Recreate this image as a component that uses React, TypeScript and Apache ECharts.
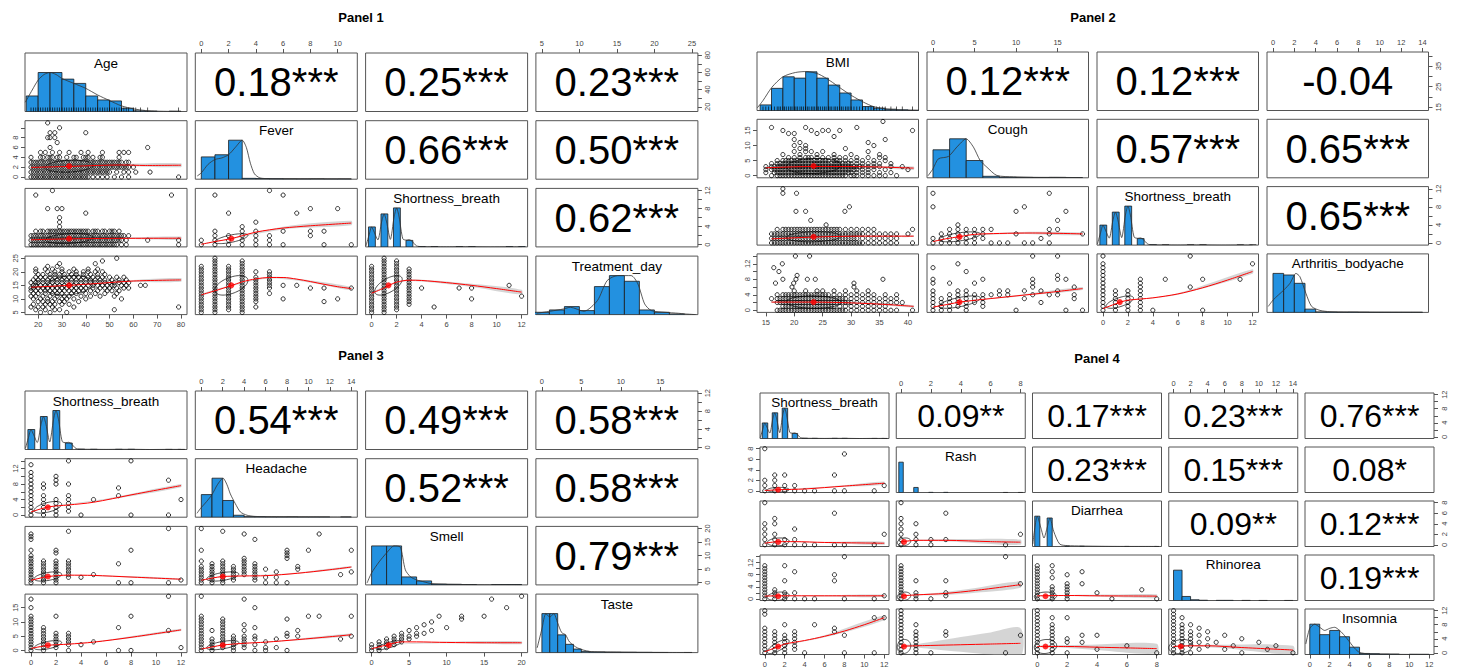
import React, { useEffect, useRef } from "react";
import * as echarts from "echarts";

type Range = [number, number];
type Col = [number, number[]];
type Pt = [number, number];
type Bin = [number, number, number];
type Band = [number, number, number];

const FONT = "'Liberation Sans', Arial, Helvetica, sans-serif";
const BORDER = "#555555";
const HIST_FILL = "#2391E0";

// ===== Shortness_breath (shared by all panels) =====
const SB_RANGE: Range = [0, 12];
const SB_TICKS = [0, 2, 4, 6, 8, 10, 12];
const SB_VLABELS = [0, 4, 8, 12];
const SB_MEAN = 1.35;
const SB_SD = 1.1;
const SB_HIST: Bin[] = [[-0.25, 0.3, 200], [0.75, 1.3, 330], [1.75, 2.3, 390], [2.75, 3.3, 65], [3.75, 4.3, 3], [4.75, 5.3, 2], [6.75, 7.3, 2], [7.75, 8.3, 2], [10.75, 11.3, 1], [11.75, 12.3, 1]];
const SB_DENS: Pt[] = [[-0.45, 10], [-0.2, 120], [0, 200], [0.2, 150], [0.5, 70], [0.8, 250], [1, 330], [1.2, 250], [1.5, 75], [1.8, 300], [2, 390], [2.2, 300], [2.5, 80], [2.8, 68], [3, 72], [3.2, 60], [3.6, 10], [4, 3], [5, 2], [6, 1], [7, 2], [8, 2], [9.5, 0], [11, 1], [12, 1]];

// ===== Panel 1 =====
const P1_VARS = ["Age", "Fever", "Shortness_breath", "Treatment_day"];
const P1_RANGES: Range[] = [[17, 80], [0, 11], SB_RANGE, [5, 25]];
const P1_TICKS = [[20, 30, 40, 50, 60, 70, 80], [0, 2, 4, 6, 8, 10], SB_TICKS, [5, 10, 15, 20, 25]];
const P1_VLABELS = [[20, 40, 60, 80], [0, 2, 4, 6, 8], SB_VLABELS, [5, 10, 15, 20, 25]];
const P1_MEANS = [33, 2.2, SB_MEAN, 15];
const P1_SDS = [10, 1.22, SB_SD, 3.6];
const P1_COR = ["0.18***", "0.25***", "0.23***", "0.66***", "0.50***", "0.62***"];

const AGE_HIST: Bin[] = [[15, 20, 47], [20, 25, 118], [25, 30, 118], [30, 35, 98], [35, 40, 85], [40, 45, 47], [45, 50, 35], [50, 55, 32], [55, 60, 10], [60, 65, 2], [65, 70, 1], [75, 80, 1]];
const AGE_DENS: Pt[] = [[14.6, 28], [17.5, 65], [20, 95], [22.5, 112], [25, 118], [27.5, 112], [30, 100], [35, 85], [40, 70], [45, 50], [50, 33], [55, 17], [60, 8], [65, 3], [70, 1], [80, 0]];
const AGE_RUG = [17, 18, 19, 20, 21, 22, 23, 24, 25, 26, 27, 28, 29, 30, 31, 32, 33, 34, 35, 36, 37, 38, 39, 40, 41, 42, 43, 44, 45, 46, 47, 48, 49, 50, 51, 52, 53, 54, 55, 56, 57, 58, 60, 61, 63, 66, 79];
const FEVER_HIST: Bin[] = [[0, 1, 210], [1, 2, 230], [2, 3, 367], [3, 4, 8], [4, 5, 6], [5, 6, 4], [6, 7, 3], [7, 8, 2], [8, 9, 3], [9, 10, 1], [10, 11, 2]];
const FEVER_DENS: Pt[] = [[-0.3, 30], [0, 60], [0.5, 140], [1, 185], [1.5, 200], [2, 230], [2.5, 300], [3, 367], [3.3, 300], [3.6, 150], [3.9, 50], [4.3, 12], [5, 5], [6, 3], [8, 3], [10, 2], [11, 1]];
const TD_HIST: Bin[] = [[4, 6, 7], [6, 8, 14], [8, 10, 24], [10, 12, 12], [12, 14, 84], [14, 16, 117], [16, 18, 100], [18, 20, 14], [20, 22, 7], [22, 24, 2]];
const TD_DENS: Pt[] = [[4.3, 4], [6.1, 10], [7.9, 17], [8.8, 22], [10.6, 10], [12.4, 42], [13.7, 102], [15.1, 117], [16.9, 117], [17.8, 92], [18.7, 32], [19.6, 12], [21.4, 7], [23.2, 4], [24.1, 2], [25.5, 0]];

const P1_AGE_FEVER: Col[] = [
  [0, [17, 18, 19, 20, 21, 22, 23, 24, 25, 26, 27, 28, 29, 30, 31, 32, 33, 34, 35, 36, 37, 38, 39, 40, 41, 43, 45, 47, 49, 52, 55, 58, 79]],
  [1, [17, 18, 19, 20, 21, 22, 23, 24, 25, 26, 27, 28, 29, 30, 31, 32, 33, 34, 35, 36, 37, 38, 39, 40, 41, 42, 43, 44, 45, 46, 47, 48, 49, 50, 53, 56, 58, 61, 67]],
  [2, [17, 18, 19, 20, 21, 22, 23, 24, 25, 26, 27, 28, 29, 30, 31, 32, 33, 34, 35, 36, 37, 38, 39, 40, 41, 42, 43, 44, 45, 46, 47, 48, 49, 50, 51, 52, 53, 54, 55, 56, 57, 58, 60]],
  [3, [17, 18, 19, 20, 21, 22, 23, 24, 25, 26, 27, 28, 29, 30, 31, 32, 33, 34, 35, 36, 37, 38, 39, 40, 41, 42, 43, 44, 45, 46, 47, 48, 49, 50, 51, 52, 53, 54, 55, 57, 58]],
  [4, [17, 21, 22, 24, 25, 26, 28, 29, 32, 35, 36, 39, 40, 41, 43, 46, 47, 54]],
  [5, [21, 23, 26, 29, 33, 38, 41, 47, 54, 56, 58]],
  [6, [25, 66]], [7, [28]], [8, [24, 25, 27]], [9, [25, 27, 40]], [10, [29]], [11, [24]],
];
const P1_AGE_FEVER_LOESS: Pt[] = [[17, 1.95], [25, 2.05], [33, 2.15], [45, 2.35], [55, 2.45], [65, 2.35], [80, 2.4]];
const P1_AGE_FEVER_BAND: Band[] = [[17, 1.8, 2.1], [33, 2.05, 2.25], [55, 2.25, 2.65], [80, 2.0, 2.8]];

const P1_AGE_SB: Col[] = [
  [0, [17, 18, 19, 20, 21, 22, 23, 24, 25, 26, 27, 28, 29, 30, 31, 32, 33, 34, 35, 36, 37, 38, 39, 40, 41, 42, 43, 44, 45, 46, 47, 48, 49, 50, 51, 52, 53, 55, 57, 79]],
  [1, [17, 18, 19, 20, 21, 22, 23, 24, 25, 26, 27, 28, 29, 30, 31, 32, 33, 34, 35, 36, 37, 38, 39, 40, 41, 42, 43, 44, 45, 46, 47, 48, 49, 50, 51, 52, 53, 54, 55, 57, 66, 79]],
  [2, [17, 18, 19, 20, 21, 22, 23, 24, 25, 26, 27, 28, 29, 30, 31, 32, 33, 34, 35, 36, 37, 38, 39, 40, 41, 42, 43, 44, 45, 46, 47, 48, 49, 50, 51, 52, 53, 54, 55, 56, 58]],
  [3, [19, 21, 22, 24, 25, 26, 27, 28, 29, 30, 31, 32, 33, 34, 35, 36, 37, 38, 39, 40, 41, 43, 44, 45, 47, 48, 50, 51, 52, 54]],
  [4, [29]], [5, [29]], [6, [29]], [7, [40]], [8, [24, 28, 30]], [11, [19, 76]], [12, [26]],
];
const P1_AGE_SB_LOESS: Pt[] = [[17, 1.1], [33, 1.3], [50, 1.4], [80, 1.45]];
const P1_AGE_SB_BAND: Band[] = [[17, 0.95, 1.25], [33, 1.2, 1.4], [55, 1.25, 1.6], [80, 1.1, 1.8]];

const P1_FEVER_SB: Col[] = [
  [0, [0, 1]], [1, [0, 1, 2, 3, 11]], [2, [0, 1, 2, 7]], [3, [0, 1, 2, 3, 4]], [4, [0, 1, 2, 3, 5]], [5, [0, 1, 2, 12]],
  [6, [0, 3, 11]], [7, [7]], [8, [2, 3, 8]], [9, [0, 3]], [10, [8]], [11, [0]],
];
const P1_FEVER_SB_LOESS: Pt[] = [[0, 0.1], [1, 0.7], [2.2, 1.35], [3, 2], [4, 2.8], [5, 3.3], [6, 3.7], [8, 4.2], [11, 4.8]];
const P1_FEVER_SB_BAND: Band[] = [[0, 0.0, 0.2], [2.2, 1.25, 1.45], [6, 3.4, 4.0], [11, 4.3, 5.3]];

const P1_AGE_TD: Col[] = [
  [5, [21, 25, 32]], [6, [19, 23, 27, 29, 52]], [7, [17, 20, 22, 26, 35, 79]], [8, [18, 23, 25, 27, 30, 33]],
  [9, [20, 22, 24, 26, 29, 31, 37]], [10, [18, 21, 24, 27, 30, 32, 35, 40, 55]], [11, [17, 19, 22, 25, 28, 31, 33, 38, 42, 46, 52]],
  [12, [18, 20, 23, 26, 28, 30, 34, 36, 40, 44, 48, 53]], [13, [17, 19, 21, 23, 25, 27, 29, 31, 33, 35, 37, 39, 42, 45, 49, 51, 54]],
  [14, [17, 18, 20, 22, 24, 26, 28, 30, 32, 34, 36, 38, 40, 43, 46, 48, 50, 53, 56, 58]],
  [15, [18, 19, 21, 23, 25, 27, 29, 31, 33, 35, 37, 39, 41, 43, 45, 47, 49, 51, 52, 55, 57, 63, 65]],
  [16, [17, 19, 20, 22, 24, 26, 28, 30, 32, 34, 36, 38, 40, 42, 44, 46, 48, 50, 52, 54, 56, 58]],
  [17, [18, 20, 22, 24, 26, 28, 30, 32, 34, 36, 38, 40, 42, 44, 46, 48, 51, 54, 57]],
  [18, [19, 21, 23, 25, 27, 29, 31, 33, 35, 37, 39, 41, 43, 45, 47, 50, 53, 56]],
  [19, [20, 22, 25, 27, 29, 31, 34, 36, 39, 42, 45, 48]], [20, [19, 24, 27, 30, 33, 36, 39, 41, 44, 47]],
  [21, [19, 23, 26, 30, 35, 41, 45]], [22, [24, 28]], [23, [29, 44]], [24, [47]], [25, [53]],
];
const P1_AGE_TD_LOESS: Pt[] = [[17, 14.3], [33, 15], [45, 15.7], [60, 16.6], [80, 17.0]];
const P1_AGE_TD_BAND: Band[] = [[17, 13.9, 14.7], [33, 14.8, 15.2], [60, 16.2, 17.0], [80, 16.3, 17.7]];

const P1_FEVER_TD: Col[] = [
  [0, [5, 6, 7, 8, 9, 10, 11, 12, 13, 14, 15, 16, 17, 18, 19, 20, 21, 22]],
  [1, [5, 6, 7, 8, 9, 10, 11, 12, 13, 14, 15, 16, 17, 18, 19, 20, 21, 22, 23, 24, 25]],
  [2, [6, 7, 8, 9, 10, 11, 12, 13, 14, 15, 16, 17, 18, 19, 20, 21, 22]],
  [3, [5, 6, 7, 8, 9, 10, 11, 12, 13, 14, 15, 16, 17, 18, 19, 20, 21, 22, 23, 24]],
  [4, [7, 9, 10, 11, 12, 13, 14, 15, 16, 17, 18, 20]], [5, [12, 14, 15, 16, 17, 18, 19, 20]],
  [6, [10, 15]], [7, [15]], [8, [14]], [9, [9, 14]], [10, [10]], [11, [14]],
];
const P1_FEVER_TD_LOESS: Pt[] = [[0, 11.5], [1, 13], [2.2, 14.9], [3, 16.3], [4, 17.4], [5, 17.9], [6, 17.9], [7, 17.3], [8, 16.4], [9, 15.4], [10, 14.5], [11, 13.8]];
const P1_FEVER_TD_BAND: Band[] = [[0, 11.2, 11.8], [2.2, 14.7, 15.1], [5, 17.5, 18.1], [8, 16.0, 16.8], [11, 13.2, 14.4]];

const P1_SB_TD: Col[] = [
  [0, [5, 6, 7, 8, 9, 10, 11, 12, 13, 14, 15, 16, 17, 18, 19, 20, 21, 22]],
  [1, [5, 6, 7, 8, 9, 10, 11, 12, 13, 14, 15, 16, 17, 18, 19, 20, 21, 22, 23, 24, 25]],
  [2, [6, 7, 8, 9, 10, 11, 12, 13, 14, 15, 16, 17, 18, 19, 20, 21, 22, 23, 24]],
  [3, [8, 9, 10, 11, 12, 13, 14, 15, 16, 17, 18, 19, 20, 21]],
  [4, [14]], [5, [7]], [7, [14]], [8, [10, 14]], [11, [15]], [12, [11]],
];
const P1_SB_TD_LOESS: Pt[] = [[0, 12.1], [1, 14], [1.4, 15], [2, 16.2], [3, 16.9], [4, 16.8], [6, 16], [8, 15], [10, 13.8], [12, 12.5]];
const P1_SB_TD_BAND: Band[] = [[0, 11.8, 12.4], [1.4, 14.8, 15.2], [3, 16.6, 17.2], [8, 14.4, 15.6], [12, 11.6, 13.4]];

// ===== Panel 2 =====
const P2_VARS = ["BMI", "Cough", "Shortness_breath", "Arthritis_bodyache"];
const P2_RANGES: Range[] = [[14.5, 40.8], [0, 18], SB_RANGE, [0, 14]];
const P2_TICKS = [[15, 20, 25, 30, 35, 40], [0, 5, 10, 15], SB_TICKS, [0, 2, 4, 6, 8, 10, 12, 14]];
const P2_VLABELS = [[15, 25, 35], [0, 5, 10, 15], SB_VLABELS, [0, 4, 8, 12]];
const P2_MEANS = [23.4, 3.2, SB_MEAN, 2.1];
const P2_SDS = [4.8, 2.5, SB_SD, 1.6];
const P2_COR = ["0.12***", "0.12***", "-0.04", "0.57***", "0.65***", "0.65***"];

const BMI_HIST: Bin[] = [[14, 16, 17], [16, 18, 67], [18, 20, 102], [20, 22, 98], [22, 24, 117], [24, 26, 98], [26, 28, 77], [28, 30, 53], [30, 32, 32], [32, 34, 12], [34, 36, 7], [36, 38, 4], [38, 40, 2], [40, 42, 1]];
const BMI_DENS: Pt[] = [[13.5, 8], [14.5, 30], [16.05, 70], [18, 102], [20.2, 115], [22.2, 118], [24.3, 110], [26.3, 90], [28.1, 68], [30.1, 45], [32.2, 25], [33.9, 12], [36, 5], [38, 2], [41.5, 0]];
const BMI_RUG = [14.5, 15, 15.5, 16, 16.5, 17, 17.3, 17.6, 18, 18.3, 18.6, 19, 19.3, 19.6, 20, 20.3, 20.6, 21, 21.3, 21.6, 22, 22.3, 22.6, 23, 23.3, 23.6, 24, 24.3, 24.6, 25, 25.3, 25.6, 26, 26.3, 26.6, 27, 27.3, 27.6, 28, 28.3, 28.6, 29, 29.3, 29.6, 30, 30.5, 31, 31.5, 32, 32.5, 33, 33.5, 34, 34.5, 35, 35.5, 36, 37, 38, 39, 40.8];
const COUGH_HIST: Bin[] = [[0, 2, 280], [2, 4, 390], [4, 6, 173], [6, 8, 15], [8, 10, 5], [10, 12, 4], [12, 14, 3], [14, 16, 4], [16, 18, 2]];
const COUGH_DENS: Pt[] = [[-0.6, 20], [0, 90], [0.65, 190], [1.85, 213], [2.87, 307], [3.99, 390], [4.87, 307], [5.68, 173], [6.49, 106], [7.7, 23], [9.7, 10], [12, 5], [15, 4], [18, 2]];
const ARTH_HIST: Bin[] = [[0, 1, 393], [1, 2, 377], [2, 3, 293], [3, 4, 33], [4, 5, 5], [5, 6, 3], [6, 7, 2], [7, 8, 3], [8, 9, 2], [9, 10, 1], [10, 11, 1], [11, 12, 1], [12, 13, 1], [13, 14, 1]];
const ARTH_DENS: Pt[] = [[-0.44, 60], [0.03, 127], [1.03, 227], [1.59, 293], [2.15, 393], [2.52, 360], [3.08, 193], [3.62, 60], [4.4, 20], [5.33, 7], [7, 3], [10, 1], [14, 0]];

const P2_BMI_COUGH: Col[] = [
  [0, [16, 17, 17.5, 18, 18.5, 19, 19.5, 20, 20.5, 21, 21.5, 22, 22.5, 23, 23.5, 24, 24.5, 25, 25.5, 26, 26.5, 27, 27.5, 28, 28.5, 29, 30, 30.5, 31, 32, 33, 34, 35, 36, 38]],
  [1, [15, 16.5, 17, 17.5, 18, 18.5, 19, 19.5, 20, 20.5, 21, 21.5, 22, 22.5, 23, 23.5, 24, 24.5, 25, 25.5, 26, 26.5, 27, 27.5, 28, 28.5, 29, 29.5, 30, 31, 32, 33, 35, 37]],
  [2, [15, 16, 16.5, 17, 17.5, 18, 18.5, 19, 19.5, 20, 20.5, 21, 21.5, 22, 22.5, 23, 23.5, 24, 24.5, 25, 25.5, 26, 26.5, 27, 27.5, 28, 28.5, 29, 29.5, 30, 30.5, 31, 32, 33, 34, 36, 40]],
  [3, [15, 16, 16.5, 17, 17.5, 18, 18.5, 19, 19.5, 20, 20.5, 21, 21.5, 22, 22.5, 23, 23.5, 24, 24.5, 25, 25.5, 26, 26.5, 27, 27.5, 28, 28.5, 29, 29.5, 30, 30.5, 31, 31.5, 32, 33, 34, 35, 37, 39]],
  [4, [16, 17, 17.5, 18, 18.5, 19, 19.5, 20, 20.5, 21, 21.5, 22, 22.5, 23, 23.5, 24, 24.5, 25, 25.5, 26, 26.5, 27, 27.5, 28, 28.5, 29, 29.5, 30, 31, 32, 33, 34, 35, 37]],
  [5, [17, 18, 18.5, 19, 19.5, 20, 20.5, 21, 21.5, 22, 22.5, 23, 23.5, 24, 24.5, 25, 25.5, 26, 27, 27.5, 28, 29, 30, 31, 32, 34, 36]],
  [6, [19, 20, 21, 22, 22.5, 23, 24, 25, 26, 27, 28, 29, 31, 33, 35, 36]], [7, [18, 21, 24, 27, 30, 35]], [8, [20, 22, 23, 25, 33]],
  [9, [21, 22, 29]], [10, [20, 22, 34]], [11, [21, 33]], [12, [20, 36]], [13, [27]], [14, [19, 20, 24]],
  [15, [18, 23, 25, 26, 28, 40.8]], [16, [16, 22, 31]], [18, [35.6]],
];
const P2_BMI_COUGH_LOESS: Pt[] = [[15, 2.6], [23.4, 3.05], [33, 2.95], [41, 2.5]];
const P2_BMI_COUGH_BAND: Band[] = [[15, 2.2, 3.0], [23.4, 2.9, 3.2], [33, 2.7, 3.2], [41, 1.9, 3.0]];

const P2_BMI_SB: Col[] = [
  [0, [16, 16.5, 17, 17.5, 18, 18.5, 19, 19.5, 20, 20.5, 21, 21.5, 22, 22.5, 23, 23.5, 24, 24.5, 25, 25.5, 26, 26.5, 27, 27.5, 28, 28.5, 29, 29.5, 30, 30.5, 31, 31.5, 32, 33, 34, 35, 36, 37, 38, 40.8]],
  [1, [16, 16.5, 17, 17.5, 18, 18.5, 19, 19.5, 20, 20.5, 21, 21.5, 22, 22.5, 23, 23.5, 24, 24.5, 25, 25.5, 26, 26.5, 27, 27.5, 28, 28.5, 29, 29.5, 30, 30.5, 31, 32, 33, 34, 35, 36, 37, 38]],
  [2, [16, 16.5, 17, 17.5, 18, 18.5, 19, 19.5, 20, 20.5, 21, 21.5, 22, 22.5, 23, 23.5, 24, 24.5, 25, 25.5, 26, 26.5, 27, 27.5, 28, 28.5, 29, 29.5, 30, 30.5, 31, 31.5, 32, 33, 34, 35, 36, 37, 38, 40]],
  [3, [17, 18, 18.5, 19, 19.5, 20, 20.5, 21, 21.5, 22, 22.5, 23, 23.5, 24, 24.5, 25, 25.5, 26, 26.5, 27, 27.5, 28, 29, 30, 31, 32, 33, 34, 40.8]],
  [4, [25.6]], [5, [22.9]], [7, [20.3, 22, 28.9]], [8, [29.7]], [11, [18, 20.4]], [12, [18]],
];
const P2_BMI_SB_LOESS: Pt[] = [[16, 0.9], [23.4, 1.3], [32, 1.5], [41, 1.5]];
const P2_BMI_SB_BAND: Band[] = [[16, 0.75, 1.05], [23.4, 1.25, 1.4], [32, 1.4, 1.6], [41, 1.3, 1.7]];

const P2_COUGH_SB: Col[] = [
  [0, [0, 1, 8, 11]], [1, [0, 1, 2]], [2, [0, 1, 2, 3]], [3, [0, 1, 2, 3, 4]], [4, [0, 1, 2, 3]], [5, [0, 1, 2, 3]],
  [6, [1, 2, 3]], [7, [0, 3]], [8, [0]], [9, [0]], [10, [2, 7]], [11, [0, 8]], [12, [0]], [13, [1]],
  [14, [0, 2, 3, 11]], [15, [3, 5]], [16, [7]], [18, [2]],
];
const P2_COUGH_SB_LOESS: Pt[] = [[0, 0.3], [1.5, 0.9], [3.2, 1.4], [5, 1.9], [8, 2.1], [12, 2.2], [18, 2.0]];
const P2_COUGH_SB_BAND: Band[] = [[0, 0.2, 0.4], [3.2, 1.35, 1.45], [10, 2.0, 2.4], [18, 1.7, 2.3]];

const P2_BMI_ARTH: Col[] = [
  [0, [17, 17.5, 18, 18.5, 19, 19.5, 20, 20.5, 21, 21.5, 22, 22.5, 23, 23.5, 24, 24.5, 25, 25.5, 26, 26.5, 27, 27.5, 28, 28.5, 29, 30, 31, 32, 33, 34, 35, 36, 37, 38, 40.8]],
  [1, [18, 18.5, 19, 19.5, 20, 20.5, 21, 21.5, 22, 22.5, 23, 23.5, 24, 24.5, 25, 25.5, 26, 26.5, 27, 28, 29, 30, 31, 32, 33, 34, 35, 36]],
  [2, [17, 17.5, 18, 18.5, 19, 19.5, 20, 20.5, 21, 21.5, 22, 22.5, 23, 23.5, 24, 24.5, 25, 25.5, 26, 26.5, 27, 27.5, 28, 28.5, 29, 29.5, 30, 31, 32, 33, 34, 35, 36, 37, 38, 39]],
  [3, [16, 17, 17.5, 18, 18.5, 19, 19.5, 20, 20.5, 21, 21.5, 22, 22.5, 23, 23.5, 24, 24.5, 25, 25.5, 26, 26.5, 27, 27.5, 28, 28.5, 29, 30, 31, 32, 33, 34, 35, 36, 37, 38]],
  [4, [17, 18, 18.5, 19, 19.5, 20, 20.5, 21, 21.5, 22, 22.5, 23, 23.5, 24, 24.5, 25, 25.5, 26, 27, 28, 29, 30, 31, 32, 33, 34, 36, 38]],
  [5, [20, 22, 24, 25, 27, 29, 31, 33]], [6, [19.6, 30.5]], [7, [16.7, 19.9, 30.5]], [8, [18, 20.3, 22.3, 23.7, 35.6]],
  [9, [20.5]], [10, [17.3]], [11, [16.4]], [12, [17.9]], [14, [20.2, 22.7]],
];
const P2_BMI_ARTH_LOESS: Pt[] = [[16, 2.1], [23.4, 2.1], [30, 1.9], [36, 1.5], [41, 1.0]];
const P2_BMI_ARTH_BAND: Band[] = [[16, 1.9, 2.3], [23.4, 2.0, 2.2], [33, 1.6, 2.0], [41, 0.7, 1.3]];

const P2_COUGH_ARTH: Col[] = [
  [0, [0, 1, 2, 3, 4, 5, 7, 8, 11]], [1, [0, 1, 2, 3]], [2, [0, 1, 2, 3, 4, 7]], [3, [1, 2, 3, 4, 5, 12]],
  [4, [0, 1, 2, 3, 4, 5, 10]], [5, [2, 3, 4, 7]], [6, [1, 2, 3, 4, 8]], [7, [4]], [8, [4, 5]], [9, [4, 5]],
  [10, [0]], [11, [3, 5]], [12, [4, 6, 7, 8, 14]], [13, [2, 5]], [14, [4]], [15, [4, 5, 8, 9, 14]],
  [16, [0, 8]], [17, [3, 4, 6]], [18, [0]],
];
const P2_COUGH_ARTH_LOESS: Pt[] = [[0, 0.8], [2, 1.6], [3.2, 2.1], [6, 2.8], [10, 3.7], [14, 4.6], [18, 5.6]];
const P2_COUGH_ARTH_BAND: Band[] = [[0, 0.7, 0.9], [3.2, 2.05, 2.15], [10, 3.5, 3.9], [18, 5.2, 6.0]];

const P2_SB_ARTH: Col[] = [
  [0, [0, 1, 2, 3, 4, 5, 6, 7, 8, 9, 10, 11, 12, 14]], [1, [0, 1, 2, 3, 4, 5]], [2, [0, 1, 2, 3, 4, 5]],
  [3, [0, 1, 2, 3, 4, 5, 6, 7, 8]], [4, [0]], [5, [8]], [7, [6, 14]], [8, [0, 8]], [11, [8]], [12, [12]],
];
const P2_SB_ARTH_LOESS: Pt[] = [[0, 0.4], [1.4, 2.1], [2, 2.6], [3, 2.9], [4, 3.2], [6, 4.2], [8, 5.8], [10, 7.8], [12, 10.0]];
const P2_SB_ARTH_BAND: Band[] = [[0, 0.3, 0.5], [1.4, 2.05, 2.15], [6, 4.0, 4.4], [12, 9.4, 10.6]];

// ===== Panel 3 =====
const P3_VARS = ["Shortness_breath", "Headache", "Smell", "Taste"];
const P3_RANGES: Range[] = [SB_RANGE, [0, 14], [0, 20], [0, 19]];
const P3_TICKS = [SB_TICKS, [0, 2, 4, 6, 8, 10, 12, 14], [0, 5, 10, 15, 20], [0, 5, 10, 15]];
const P3_VLABELS = [SB_VLABELS, [0, 4, 8, 12], [0, 5, 10, 15, 20], [0, 5, 10, 15]];
const P3_MEANS = [SB_MEAN, 2.0, 2.3, 1.85];
const P3_SDS = [SB_SD, 1.5, 1.7, 1.6];
const P3_COR = ["0.54***", "0.49***", "0.58***", "0.52***", "0.58***", "0.79***"];

const HEAD_HIST: Bin[] = [[0, 1, 230], [1, 2, 397], [2, 3, 170], [3, 4, 20], [4, 5, 5], [5, 6, 4], [6, 7, 2], [7, 8, 2], [8, 9, 3], [9, 10, 1], [10, 11, 1], [11, 12, 1], [13, 14, 1]];
const HEAD_DENS: Pt[] = [[-0.4, 40], [-0.09, 87], [0.5, 160], [1, 230], [1.5, 330], [2.03, 397], [2.4, 330], [2.71, 237], [3.18, 137], [3.65, 53], [4.27, 20], [5, 8], [7, 4], [10, 2], [14, 1]];
const SMELL_HIST: Bin[] = [[0, 2, 390], [2, 4, 390], [4, 6, 80], [6, 8, 40], [8, 10, 8], [10, 12, 6], [12, 14, 3], [16, 18, 3], [18, 20, 3]];
const SMELL_DENS: Pt[] = [[-0.6, 20], [0, 120], [1, 230], [2, 320], [3, 390], [3.8, 380], [4.5, 150], [5.2, 80], [6, 50], [7, 30], [8, 12], [10, 6], [12, 4], [15, 2], [18, 2], [20, 1]];
const TASTE_HIST: Bin[] = [[0, 1, 330], [1, 2, 330], [2, 3, 150], [3, 4, 70], [4, 5, 30], [5, 6, 10], [6, 8, 6], [8, 10, 4], [10, 12, 3], [12, 14, 2], [14, 16, 1], [18, 19, 1]];
const TASTE_DENS: Pt[] = [[-0.6, 40], [0, 200], [0.5, 330], [1, 300], [1.5, 330], [2, 250], [2.5, 170], [3, 150], [3.5, 90], [4.5, 40], [6, 10], [9, 4], [13, 2], [19, 1]];

const P3_SB_HEAD: Col[] = [
  [0, [0, 1, 2, 3, 4, 5, 6, 7, 8, 9, 10, 11, 13]], [1, [0, 1, 2, 3, 4, 5, 7, 8]], [2, [0, 1, 2, 3, 4, 8, 9, 10]],
  [3, [1, 2, 3, 4, 5, 8, 14]], [4, [0]], [5, [4]], [7, [5, 7]], [8, [0, 14]], [11, [0, 9]], [12, [4]],
];
const P3_SB_HEAD_LOESS: Pt[] = [[0, 0.8], [1.4, 2.1], [3, 2.6], [5, 3.3], [8, 5.2], [12, 7.6]];
const P3_SB_HEAD_BAND: Band[] = [[0, 0.7, 0.9], [1.4, 2.05, 2.15], [6, 3.9, 4.2], [12, 7.2, 8.0]];

const P3_SB_SMELL: Col[] = [
  [0, [0, 1, 2, 3, 4, 5, 6, 7, 8, 9, 10, 12, 16, 17, 18]], [1, [0, 1, 2, 3, 4, 5, 6, 7, 8]], [2, [0, 1, 2, 3, 4, 5, 6, 7, 8, 11, 12]],
  [3, [2, 3, 4, 5, 6, 7, 8, 19]], [4, [2]], [5, [3]], [7, [0, 7]], [8, [0, 12]], [11, [0, 20]], [12, [1]],
];
const P3_SB_SMELL_LOESS: Pt[] = [[0, 0.9], [1.4, 2.3], [3, 2.8], [5, 2.7], [8, 2.1], [12, 1.3]];
const P3_SB_SMELL_BAND: Band[] = [[0, 0.8, 1.0], [1.4, 2.25, 2.35], [6, 2.3, 2.7], [12, 1.0, 1.6]];

const P3_HEAD_SMELL: Col[] = [
  [0, [0, 1, 2, 3, 4, 5, 6, 8, 12, 20]], [1, [0, 1, 2, 3, 4, 5, 6, 7]], [2, [0, 1, 2, 3, 4, 5, 6, 7, 8, 19]],
  [3, [1, 2, 3, 4, 5, 6]], [4, [3, 4, 5, 6, 7, 8, 9, 18]], [5, [1, 2, 3, 4, 5, 6, 7, 16]], [6, [0, 2, 5]],
  [7, [0, 2, 4]], [8, [0, 9, 10, 11, 12]], [9, [5, 6]], [10, [12]], [11, [18]], [13, [3]], [14, [4, 12]],
];
const P3_HEAD_SMELL_LOESS: Pt[] = [[0, 0.9], [1, 1.7], [2, 2.3], [4, 2.5], [6, 2.6], [9, 3.5], [12, 4.8], [14, 5.8]];
const P3_HEAD_SMELL_BAND: Band[] = [[0, 0.8, 1.0], [2, 2.25, 2.35], [8, 3.0, 3.4], [14, 5.4, 6.2]];

const P3_SB_TASTE: Col[] = [
  [0, [0, 1, 2, 3, 4, 5, 6, 7, 8, 9, 10, 11, 12, 15, 18]], [1, [0, 1, 2, 3, 4, 5, 6, 7, 8]], [2, [1, 2, 3, 4, 5, 6, 12]],
  [3, [0, 2, 3, 4, 5, 6]], [4, [2]], [5, [3]], [7, [0, 8]], [8, [0, 12]], [11, [7, 19]], [12, [1]],
];
const P3_SB_TASTE_LOESS: Pt[] = [[0, 0.7], [1.4, 1.8], [3, 2.2], [5, 2.9], [8, 4.6], [12, 7.2]];
const P3_SB_TASTE_BAND: Band[] = [[0, 0.6, 0.8], [1.4, 1.75, 1.85], [6, 3.3, 3.7], [12, 6.8, 7.6]];

const P3_HEAD_TASTE: Col[] = [
  [0, [0, 1, 2, 3, 4, 5, 6, 7, 8, 9, 10, 11, 12, 19]], [1, [0, 1, 2, 3, 4, 7]], [2, [1, 2, 3, 4, 5, 6, 7, 8, 9, 10, 11]],
  [3, [0, 1, 2, 3, 4, 5]], [4, [1, 2, 3, 4, 5, 7, 9, 18]], [5, [0, 2, 4, 5, 8, 15]], [6, [0, 1, 3]], [7, [1, 4]],
  [8, [0, 5, 6, 11]], [9, [5, 7]], [10, [12]], [11, [12]], [13, [4]], [14, [5, 12]],
];
const P3_HEAD_TASTE_LOESS: Pt[] = [[0, 0.5], [1, 1.2], [2, 1.9], [4, 2.5], [6, 2.9], [9, 3.8], [12, 4.8], [14, 5.5]];
const P3_HEAD_TASTE_BAND: Band[] = [[0, 0.4, 0.6], [2, 1.85, 1.95], [8, 3.3, 3.7], [14, 5.1, 5.9]];

const P3_SMELL_TASTE: Col[] = [
  [0, [0, 1, 2]], [1, [0, 1, 2, 3]], [2, [1, 2, 3, 4]], [3, [2, 3, 4, 5]], [4, [3, 4, 5, 6]], [5, [4, 5, 7]],
  [6, [5, 6, 8]], [7, [6, 9]], [8, [7, 10]], [9, [12]], [10, [8]], [12, [11, 12]], [15, [12]], [16, [18]], [18, [15]], [20, [19]],
];
const P3_SMELL_TASTE_LOESS: Pt[] = [[0, 0.6], [2, 1.9], [4, 3.0], [6, 3.0], [10, 2.8], [15, 2.7], [20, 2.7]];
const P3_SMELL_TASTE_BAND: Band[] = [[0, 0.5, 0.7], [2, 1.85, 1.95], [10, 2.5, 3.1], [20, 2.2, 3.2]];

// ===== Panel 4 =====
const P4_VARS = ["Shortness_breath", "Rash", "Diarrhea", "Rhinorea", "Insomnia"];
const P4_RANGES: Range[] = [SB_RANGE, [0, 8], [0, 8], [0, 14], [0, 12]];
const P4_TICKS = [SB_TICKS, [0, 2, 4, 6, 8], [0, 2, 4, 6, 8], [0, 2, 4, 6, 8, 10, 12, 14], [0, 2, 4, 6, 8, 10, 12]];
const P4_VLABELS = [SB_VLABELS, [0, 2, 4, 6, 8], [0, 2, 4, 6, 8], [0, 4, 8, 12], [0, 4, 8, 12]];
const P4_MEANS = [SB_MEAN, 0.2, 0.55, 0.85, 1.8];
const P4_SDS = [SB_SD, 0.45, 0.75, 1.4, 2.0];
const P4_COR = ["0.09**", "0.17***", "0.23***", "0.76***", "0.23***", "0.15***", "0.08*", "0.09**", "0.12***", "0.19***"];

const RASH_HIST: Bin[] = [[-0.15, 0.15, 600], [0.85, 1.15, 100], [1.85, 2.15, 3], [2.85, 3.15, 3], [6.85, 7.15, 1], [7.85, 8.15, 1]];
const RASH_DENS: Pt[] = [];
const DIAR_HIST: Bin[] = [[-0.17, 0.17, 500], [0.66, 1.0, 470], [1.85, 2.15, 4], [2.85, 3.15, 3], [5.85, 6.15, 1], [7.85, 8.15, 1]];
const DIAR_DENS: Pt[] = [[-0.3, 40], [0, 500], [0.25, 300], [0.45, 140], [0.65, 300], [0.85, 470], [1.1, 250], [1.5, 40], [2, 15], [3, 8], [5, 2], [8, 1]];
const RHIN_HIST: Bin[] = [[0, 1, 600], [1, 2, 80], [2, 3, 15], [3, 4, 5], [5, 6, 3], [6, 7, 3], [8, 9, 2], [10, 11, 1], [13, 14, 1]];
const RHIN_DENS: Pt[] = [];
const INSOM_HIST: Bin[] = [[0, 1, 290], [1, 2, 190], [2, 3, 230], [3, 4, 170], [4, 5, 70], [5, 6, 10], [6, 7, 8], [7, 8, 5], [8, 9, 4], [10, 11, 2], [11, 12, 2]];
const INSOM_DENS: Pt[] = [[-0.4, 100], [0, 250], [0.5, 290], [1, 260], [1.5, 230], [2, 250], [2.5, 260], [3, 230], [3.5, 180], [4, 120], [4.5, 60], [5, 20], [6, 5], [8, 2], [12, 0]];

const P4_SB_RASH: Col[] = [[0, [0, 1, 2, 8]], [1, [0, 1, 2, 3]], [2, [0, 1, 3]], [3, [0, 1]], [4, [0]], [5, [0]], [7, [0, 3]], [8, [0, 7]], [11, [0]], [12, [1]]];
const P4_SB_RASH_LOESS: Pt[] = [[0, 0.05], [1.4, 0.2], [4, 0.35], [8, 0.9], [12, 1.45]];
const P4_SB_RASH_BAND: Band[] = [[0, 0.0, 0.1], [1.4, 0.17, 0.23], [8, 0.75, 1.05], [12, 1.15, 1.75]];
const P4_SB_DIAR: Col[] = [[0, [0, 1, 2, 3, 4, 8]], [1, [0, 1, 2, 4, 5]], [2, [0, 1]], [3, [0, 1, 3]], [4, [0]], [5, [0]], [7, [0, 6]], [8, [0]], [11, [0]], [12, [2]]];
const P4_SB_DIAR_LOESS: Pt[] = [[0, 0.3], [1.4, 0.6], [3, 0.6], [6, 0.45], [12, 0.3]];
const P4_SB_DIAR_BAND: Band[] = [[0, 0.25, 0.35], [1.4, 0.57, 0.63], [6, 0.35, 0.55], [12, 0.0, 0.6]];
const P4_RASH_DIAR: Col[] = [[0, [0, 1, 2, 3, 4, 5, 8]], [1, [0, 1, 2, 4]], [2, [0, 1]], [3, [1, 6]], [7, [0]], [8, [2]]];
const P4_RASH_DIAR_LOESS: Pt[] = [[0, 0.55], [1, 0.85], [3, 0.85], [6, 0.6], [8, 0.5]];
const P4_RASH_DIAR_BAND: Band[] = [[0, 0.5, 0.6], [1, 0.75, 0.95], [4, 0.5, 1.1], [8, 0.0, 1.0]];
const P4_SB_RHIN: Col[] = [[0, [0, 1, 2, 3, 4, 5, 6, 7, 8, 9, 10, 11]], [1, [0, 1, 2, 3]], [2, [0, 1, 2, 6, 11]], [3, [0, 2, 9]], [4, [0]], [5, [0]], [7, [6, 8]], [8, [0, 14]], [11, [0]], [12, [1]]];
const P4_SB_RHIN_LOESS: Pt[] = [[0, 0.9], [1.4, 1.0], [6, 1.0], [12, 1.0]];
const P4_SB_RHIN_BAND: Band[] = [[0, 0.8, 1.0], [1.4, 0.95, 1.05], [6, 0.8, 1.2], [12, 0.6, 1.4]];
const P4_RASH_RHIN: Col[] = [[0, [0, 1, 2, 3, 4, 5, 6, 7, 8, 9, 10, 11]], [1, [0, 1, 2, 6]], [2, [0]], [3, [1, 2, 6]], [7, [14]], [8, [5]]];
const P4_RASH_RHIN_LOESS: Pt[] = [[0, 1], [1, 1.3], [3, 1.8], [5, 2.8], [8, 4.7]];
const P4_RASH_RHIN_BAND: Band[] = [[0, 0.9, 1.1], [1, 1.15, 1.45], [3, 1.3, 2.3], [5, 2.0, 3.6], [8, 3.7, 5.8]];
const P4_DIAR_RHIN: Col[] = [[0, [0, 1, 2, 3, 4, 5, 6, 7, 8, 9, 10, 11]], [1, [0, 1, 2, 3, 4, 7, 9, 11]], [2, [0, 1, 2, 3, 4, 5, 8]], [3, [5, 9]], [4, [2]], [5, [0]], [7, [3]], [8, [0]]];
const P4_DIAR_RHIN_LOESS: Pt[] = [[0, 1.0], [2, 1.1], [4, 1.0], [8, 0.9]];
const P4_DIAR_RHIN_BAND: Band[] = [[0, 0.9, 1.1], [2, 0.95, 1.25], [5, 0.6, 1.4], [8, 0.3, 1.5]];
const P4_SB_INSOM: Col[] = [[0, [0, 1, 2, 3, 4, 5, 6, 7, 11, 12]], [1, [0, 1, 2, 3, 4, 5, 6]], [2, [0, 1, 2, 3, 4, 5, 8]], [3, [1, 2, 3, 4, 5, 6]], [4, [0]], [5, [8]], [7, [6, 7]], [8, [0, 5]], [11, [0, 10]], [12, [10]]];
const P4_SB_INSOM_LOESS: Pt[] = [[0, 0.3], [1.4, 1.8], [2, 2.5], [4, 3.5], [6, 4.7], [8, 6.2], [10, 8], [12, 10]];
const P4_SB_INSOM_BAND: Band[] = [[0, 0.2, 0.4], [1.4, 1.75, 1.85], [6, 4.4, 5.0], [12, 9.3, 10.7]];
const P4_RASH_INSOM: Col[] = [[0, [0, 1, 2, 3, 4, 5, 6, 7, 8, 9, 10, 11, 12]], [1, [0, 1, 2, 3, 4, 5, 6, 8]], [2, [0]], [3, [5, 6]], [7, [0]], [8, [5]]];
const P4_RASH_INSOM_LOESS: Pt[] = [[0, 1.9], [2, 2.1], [4, 2.3], [6, 2.5], [8, 2.7]];
const P4_RASH_INSOM_BAND: Band[] = [[0, 1.7, 2.1], [1, 1.5, 2.5], [2, 1.1, 3.1], [4, 0.3, 4.5], [6, -0.5, 5.8], [8, -1, 7]];
const P4_DIAR_INSOM: Col[] = [[0, [0, 1, 2, 3, 4, 5, 6, 7, 8, 9, 10, 11, 12]], [1, [0, 1, 2, 3, 4, 5, 6, 7, 8, 10]], [2, [0, 3, 4, 10]], [3, [3, 5]], [4, [1, 5]], [6, [2]], [8, [0]]];
const P4_DIAR_INSOM_LOESS: Pt[] = [[0, 1.8], [2, 1.8], [4, 1.6], [6, 1.4], [8, 1.2]];
const P4_DIAR_INSOM_BAND: Band[] = [[0, 1.6, 2.0], [2, 1.4, 2.2], [4, 0.8, 2.4], [8, -0.2, 2.6]];
const P4_RHIN_INSOM: Col[] = [[0, [0, 1, 2, 3, 4, 5, 6, 7, 8, 9, 10, 11, 12]], [1, [0, 1, 2, 3, 4, 5, 6, 7, 8, 10]], [2, [0, 2, 3, 4, 5, 6, 8]], [3, [1, 3, 5, 7]], [4, [2, 4, 6]], [5, [3]], [6, [1, 5]], [7, [2]], [8, [0, 4]], [10, [3]], [11, [1]], [12, [2]], [14, [0]]];
const P4_RHIN_INSOM_LOESS: Pt[] = [[0, 1.8], [2, 2.0], [4, 2.0], [8, 1.5], [14, 0.8]];
const P4_RHIN_INSOM_BAND: Band[] = [[0, 1.6, 2.0], [2, 1.8, 2.2], [6, 1.3, 2.3], [14, -0.4, 2.0]];

// ===== Layout =====
const L1 = { x0: 25, y0: 53, sx: 170.3, sy: 67.7, w: 162, h: 58.5, cor: 40, labDy: 10, tx: 361, ty: 17 };
const L2 = { x0: 757, y0: 52, sx: 170, sy: 67.3, w: 161.5, h: 58.5, cor: 40, labDy: 10, tx: 1093, ty: 17 };
const L3 = { x0: 25, y0: 391, sx: 170.3, sy: 67.7, w: 162, h: 58.5, cor: 40, labDy: 10, tx: 361, ty: 355 };
const L4 = { x0: 760, y0: 393, sx: 136.25, sy: 54, w: 129, h: 45.5, cor: 32, labDy: 9, tx: 1097, ty: 358 };

function fromCols(c: Col[]): Pt[] {
  const out: Pt[] = [];
  c.forEach(([x, ys]) => ys.forEach((y) => out.push([x, y])));
  return out;
}
function fromRows(r: Col[]): Pt[] {
  const out: Pt[] = [];
  r.forEach(([y, xs]) => xs.forEach((x) => out.push([x, y])));
  return out;
}

interface Cell { pts: Pt[]; loess: Pt[]; band: Band[] }
interface PanelDef {
  title: string; vars: string[]; ranges: Range[]; ticks: number[][]; vl: number[][];
  means: number[]; sds: number[]; cor: string[]; hist: Bin[][]; dens: Pt[][]; rug: (number[] | null)[];
  lower: Cell[];
}

const PANELS: [PanelDef, typeof L1][] = [
  [{
    title: "Panel 1", vars: P1_VARS, ranges: P1_RANGES, ticks: P1_TICKS, vl: P1_VLABELS, means: P1_MEANS, sds: P1_SDS, cor: P1_COR,
    hist: [AGE_HIST, FEVER_HIST, SB_HIST, TD_HIST], dens: [AGE_DENS, FEVER_DENS, SB_DENS, TD_DENS], rug: [AGE_RUG, null, null, null],
    lower: [
      { pts: fromRows(P1_AGE_FEVER), loess: P1_AGE_FEVER_LOESS, band: P1_AGE_FEVER_BAND },
      { pts: fromRows(P1_AGE_SB), loess: P1_AGE_SB_LOESS, band: P1_AGE_SB_BAND },
      { pts: fromCols(P1_FEVER_SB), loess: P1_FEVER_SB_LOESS, band: P1_FEVER_SB_BAND },
      { pts: fromRows(P1_AGE_TD), loess: P1_AGE_TD_LOESS, band: P1_AGE_TD_BAND },
      { pts: fromCols(P1_FEVER_TD), loess: P1_FEVER_TD_LOESS, band: P1_FEVER_TD_BAND },
      { pts: fromCols(P1_SB_TD), loess: P1_SB_TD_LOESS, band: P1_SB_TD_BAND },
    ],
  }, L1],
  [{
    title: "Panel 2", vars: P2_VARS, ranges: P2_RANGES, ticks: P2_TICKS, vl: P2_VLABELS, means: P2_MEANS, sds: P2_SDS, cor: P2_COR,
    hist: [BMI_HIST, COUGH_HIST, SB_HIST, ARTH_HIST], dens: [BMI_DENS, COUGH_DENS, SB_DENS, ARTH_DENS], rug: [BMI_RUG, null, null, null],
    lower: [
      { pts: fromRows(P2_BMI_COUGH), loess: P2_BMI_COUGH_LOESS, band: P2_BMI_COUGH_BAND },
      { pts: fromRows(P2_BMI_SB), loess: P2_BMI_SB_LOESS, band: P2_BMI_SB_BAND },
      { pts: fromCols(P2_COUGH_SB), loess: P2_COUGH_SB_LOESS, band: P2_COUGH_SB_BAND },
      { pts: fromRows(P2_BMI_ARTH), loess: P2_BMI_ARTH_LOESS, band: P2_BMI_ARTH_BAND },
      { pts: fromCols(P2_COUGH_ARTH), loess: P2_COUGH_ARTH_LOESS, band: P2_COUGH_ARTH_BAND },
      { pts: fromCols(P2_SB_ARTH), loess: P2_SB_ARTH_LOESS, band: P2_SB_ARTH_BAND },
    ],
  }, L2],
  [{
    title: "Panel 3", vars: P3_VARS, ranges: P3_RANGES, ticks: P3_TICKS, vl: P3_VLABELS, means: P3_MEANS, sds: P3_SDS, cor: P3_COR,
    hist: [SB_HIST, HEAD_HIST, SMELL_HIST, TASTE_HIST], dens: [SB_DENS, HEAD_DENS, SMELL_DENS, TASTE_DENS], rug: [null, null, null, null],
    lower: [
      { pts: fromCols(P3_SB_HEAD), loess: P3_SB_HEAD_LOESS, band: P3_SB_HEAD_BAND },
      { pts: fromCols(P3_SB_SMELL), loess: P3_SB_SMELL_LOESS, band: P3_SB_SMELL_BAND },
      { pts: fromCols(P3_HEAD_SMELL), loess: P3_HEAD_SMELL_LOESS, band: P3_HEAD_SMELL_BAND },
      { pts: fromCols(P3_SB_TASTE), loess: P3_SB_TASTE_LOESS, band: P3_SB_TASTE_BAND },
      { pts: fromCols(P3_HEAD_TASTE), loess: P3_HEAD_TASTE_LOESS, band: P3_HEAD_TASTE_BAND },
      { pts: fromCols(P3_SMELL_TASTE), loess: P3_SMELL_TASTE_LOESS, band: P3_SMELL_TASTE_BAND },
    ],
  }, L3],
  [{
    title: "Panel 4", vars: P4_VARS, ranges: P4_RANGES, ticks: P4_TICKS, vl: P4_VLABELS, means: P4_MEANS, sds: P4_SDS, cor: P4_COR,
    hist: [SB_HIST, RASH_HIST, DIAR_HIST, RHIN_HIST, INSOM_HIST], dens: [SB_DENS, RASH_DENS, DIAR_DENS, RHIN_DENS, INSOM_DENS], rug: [null, null, null, null, null],
    lower: [
      { pts: fromCols(P4_SB_RASH), loess: P4_SB_RASH_LOESS, band: P4_SB_RASH_BAND },
      { pts: fromCols(P4_SB_DIAR), loess: P4_SB_DIAR_LOESS, band: P4_SB_DIAR_BAND },
      { pts: fromCols(P4_RASH_DIAR), loess: P4_RASH_DIAR_LOESS, band: P4_RASH_DIAR_BAND },
      { pts: fromCols(P4_SB_RHIN), loess: P4_SB_RHIN_LOESS, band: P4_SB_RHIN_BAND },
      { pts: fromCols(P4_RASH_RHIN), loess: P4_RASH_RHIN_LOESS, band: P4_RASH_RHIN_BAND },
      { pts: fromCols(P4_DIAR_RHIN), loess: P4_DIAR_RHIN_LOESS, band: P4_DIAR_RHIN_BAND },
      { pts: fromCols(P4_SB_INSOM), loess: P4_SB_INSOM_LOESS, band: P4_SB_INSOM_BAND },
      { pts: fromCols(P4_RASH_INSOM), loess: P4_RASH_INSOM_LOESS, band: P4_RASH_INSOM_BAND },
      { pts: fromCols(P4_DIAR_INSOM), loess: P4_DIAR_INSOM_LOESS, band: P4_DIAR_INSOM_BAND },
      { pts: fromCols(P4_RHIN_INSOM), loess: P4_RHIN_INSOM_LOESS, band: P4_RHIN_INSOM_BAND },
    ],
  }, L4],
];

function pad(r: Range): Range {
  const s = r[1] - r[0];
  return [r[0] - 0.04 * s, r[1] + 0.04 * s];
}

function valAxis(gridIndex: number, r: Range, position: string, ticks: number[] | null, labels: number[], vertical: boolean) {
  const [min, max] = pad(r);
  return {
    gridIndex, type: "value", min, max, position,
    axisLine: { show: false, onZero: false },
    splitLine: { show: false },
    axisTick: ticks ? { show: true, customValues: ticks, length: 4, lineStyle: { color: "#555", width: 1 } } : { show: false },
    axisLabel: ticks
      ? { show: true, customValues: labels, fontSize: 7.5, color: "#444", fontFamily: FONT, margin: 6, rotate: vertical ? 90 : 0 }
      : { show: false },
  };
}

function buildOption() {
  const opt: any = { animation: false, grid: [], xAxis: [], yAxis: [], series: [], graphic: [] };
  PANELS.forEach(([P, L]) => {
    const n = P.vars.length;
    const corAt = (a: number, b: number) => {
      const i = Math.min(a, b), j = Math.max(a, b);
      let k = 0;
      for (let r = 0; r < n; r++) for (let c = r + 1; c < n; c++) { if (r === i && c === j) return P.cor[k]; k++; }
      return "";
    };
    opt.graphic.push({
      type: "text", x: L.tx, y: L.ty, silent: true,
      style: { text: P.title, fontSize: 13, fontWeight: "bold", fontFamily: FONT, fill: "#000", align: "center", verticalAlign: "middle" },
    });
    let lk = 0;
    for (let i = 0; i < n; i++) {
      for (let j = 0; j < n; j++) {
        const left = L.x0 + j * L.sx, top = L.y0 + i * L.sy;
        const gi = opt.grid.length;
        opt.grid.push({ left, top, width: L.w, height: L.h, show: true, borderColor: BORDER, borderWidth: 1, backgroundColor: "transparent" });
        const topAx = i === 0 && j % 2 === 1, botAx = i === n - 1 && j % 2 === 0;
        const leftAx = j === 0 && i % 2 === 1, rightAx = j === n - 1 && i % 2 === 0;
        const xi = opt.xAxis.length;
        opt.xAxis.push(valAxis(gi, P.ranges[j], topAx ? "top" : "bottom", topAx || botAx ? P.ticks[j] : null, P.ticks[j], false));
        if (i === j) {
          const hist = P.hist[i], dens = P.dens[i];
          const maxC = Math.max(...hist.map((b) => b[2]), ...dens.map((d) => d[1]));
          const yc = opt.yAxis.length;
          opt.yAxis.push({ gridIndex: gi, type: "value", min: 0, max: maxC * 1.5, show: false, axisLine: { onZero: false } });
          opt.yAxis.push(valAxis(gi, P.ranges[i], rightAx ? "right" : "left", leftAx || rightAx ? P.ticks[i] : null, P.vl[i], true));
          opt.series.push({
            type: "custom", xAxisIndex: xi, yAxisIndex: yc, silent: true, clip: true, data: hist,
            renderItem: (_p: any, api: any) => {
              const a = api.coord([api.value(0), 0]);
              const b = api.coord([api.value(1), api.value(2)]);
              return { type: "rect", shape: { x: a[0], y: b[1], width: b[0] - a[0], height: a[1] - b[1] }, style: { fill: HIST_FILL, stroke: "#1a1a1a", lineWidth: 0.8 } };
            },
          });
          if (dens.length) {
            opt.series.push({ type: "line", xAxisIndex: xi, yAxisIndex: yc, data: dens, smooth: 0.25, symbol: "none", silent: true, clip: true, lineStyle: { color: "#333", width: 0.8 } });
          }
          const rug = P.rug[i];
          if (rug) {
            opt.series.push({ type: "scatter", xAxisIndex: xi, yAxisIndex: yc, silent: true, symbol: "rect", symbolSize: [0.8, 4], symbolOffset: [0, -2], itemStyle: { color: "#000" }, data: rug.map((v) => [v, 0]) });
          }
          opt.graphic.push({
            type: "text", x: left + L.w / 2, y: top + L.labDy, silent: true,
            style: { text: P.vars[i], fontSize: 13.5, fontFamily: FONT, fill: "#000", align: "center", verticalAlign: "middle" },
          });
        } else {
          const yi = opt.yAxis.length;
          opt.yAxis.push(valAxis(gi, P.ranges[i], rightAx ? "right" : "left", leftAx || rightAx ? P.ticks[i] : null, P.vl[i], true));
          if (i > j) {
            const cell = P.lower[lk++];
            const band = cell.band;
            opt.series.push({
              type: "custom", xAxisIndex: xi, yAxisIndex: yi, silent: true, clip: true, data: [[0]],
              renderItem: (_p: any, api: any) => {
                const up = band.map((b) => api.coord([b[0], b[2]]));
                const lo = band.map((b) => api.coord([b[0], b[1]])).reverse();
                return { type: "polygon", shape: { points: up.concat(lo), smooth: 0.3 }, style: { fill: "rgba(190,190,190,0.65)" } };
              },
            });
            opt.series.push({
              type: "scatter", xAxisIndex: xi, yAxisIndex: yi, silent: true, clip: true, data: cell.pts, symbol: "circle", symbolSize: 4.2,
              itemStyle: { color: "rgba(0,0,0,0)", borderColor: "#000", borderWidth: 1 },
            });
            opt.series.push({ type: "line", xAxisIndex: xi, yAxisIndex: yi, data: cell.loess, smooth: 0.3, symbol: "none", silent: true, clip: true, lineStyle: { color: "#ff0000", width: 1 } });
            const r = parseFloat(corAt(i, j));
            const mx = P.means[j], my = P.means[i], sx = P.sds[j], sy = P.sds[i];
            opt.series.push({
              type: "custom", xAxisIndex: xi, yAxisIndex: yi, silent: true, clip: true, data: [[0]],
              renderItem: (_p: any, api: any) => {
                const th = r !== 0 ? Math.sign(r) / Math.SQRT2 : 1 / Math.SQRT2;
                const a = Math.sqrt(1 + r), b = Math.sqrt(1 - r);
                const pts: number[][] = [];
                for (let k = 0; k <= 72; k++) {
                  const t = (k / 72) * 2 * Math.PI;
                  const c = Math.cos(t), s = Math.sin(t);
                  pts.push(api.coord([mx + (c * a * th - s * b * th) * sx, my + (c * a * th + s * b * th) * sy]));
                }
                return { type: "polyline", shape: { points: pts }, style: { stroke: "#111", fill: "none", lineWidth: 0.75 } };
              },
            });
            opt.series.push({ type: "scatter", xAxisIndex: xi, yAxisIndex: yi, silent: true, data: [[mx, my]], symbol: "circle", symbolSize: 6, itemStyle: { color: "#ff0000" } });
          } else {
            opt.graphic.push({
              type: "text", x: left + L.w / 2, y: top + L.h / 2, silent: true,
              style: { text: corAt(i, j), fontSize: L.cor, fontFamily: FONT, fill: "#000", align: "center", verticalAlign: "middle" },
            });
          }
        }
      }
    }
  });
  return opt;
}

export default function App() {
  const ref = useRef<HTMLDivElement>(null);
  useEffect(() => {
    const chart = echarts.init(ref.current!, undefined, { renderer: "svg" });
    chart.setOption(buildOption());
    return () => chart.dispose();
  }, []);
  return <div ref={ref} style={{ position: "fixed", left: 0, top: 0, width: 1458, height: 669, background: "#fff" }} />;
}
